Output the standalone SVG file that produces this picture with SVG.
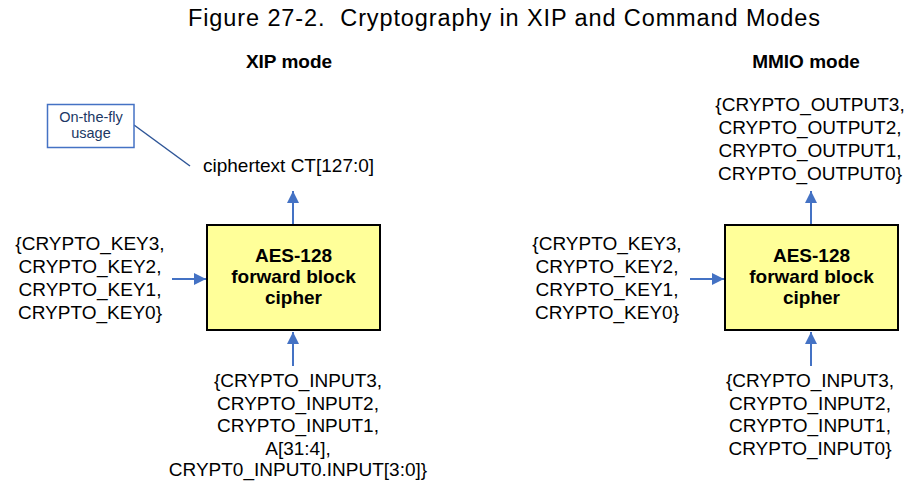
<svg xmlns="http://www.w3.org/2000/svg" width="907" height="481" viewBox="0 0 907 481">
<defs>
<style>
text{font-family:"Liberation Sans",Arial,sans-serif;fill:#000}
.t{font-size:19px;text-anchor:middle}
.b{font-size:19px;font-weight:bold;text-anchor:middle}
.box{fill:#FFFF99;stroke:#000;stroke-width:2}
.arr{stroke:#4472C4;stroke-width:2;fill:none;marker-end:url(#ah)}
.note{fill:#fff;stroke:#4472C4;stroke-width:1.5}
.nt{font-size:14.5px;text-anchor:middle;fill:#203864}
</style>
<marker id="ah" markerUnits="userSpaceOnUse" markerWidth="14" markerHeight="14" refX="12" refY="6" orient="auto">
<path d="M0,0 L12,6 L0,12 Z" fill="#4472C4"/>
</marker>
</defs>
<rect width="907" height="481" fill="#fff"/>
<text x="188" y="26" font-size="23.5" textLength="632" lengthAdjust="spacing" xml:space="preserve" style="white-space:pre">Figure 27-2.  Cryptography in XIP and Command Modes</text>
<text class="b" x="289" y="68">XIP mode</text>
<text class="b" x="806" y="68">MMIO mode</text>

<g id="connectors">
<path class="arr" d="M172,279 H206"/>
<path class="arr" d="M293,224 V191"/>
<path class="arr" d="M293,366 V332"/>
<path class="arr" d="M690,279 H724"/>
<path class="arr" d="M811,224 V191"/>
<path class="arr" d="M811,366 V332"/>
<path d="M134,125 L190,166" stroke="#2E5597" stroke-width="1.5" fill="none"/>
</g>

<g id="note">
<rect class="note" x="47.5" y="104.5" width="86.5" height="43"/>
<text class="nt" x="91" y="121.5">On-the-fly</text>
<text class="nt" x="91" y="137.5">usage</text>
</g>

<g id="xip-cipher">
<rect class="box" x="207" y="225" width="173" height="105"/>
<text class="b" x="293.5" y="262">AES-128</text>
<text class="b" x="293.5" y="283">forward block</text>
<text class="b" x="293.5" y="304">cipher</text>
</g>

<g id="xip-ciphertext">
<text x="203" y="172" font-size="19">ciphertext CT[127:0]</text>
</g>

<g id="xip-keys">
<text class="t" x="90" y="250">{CRYPTO_KEY3,</text>
<text class="t" x="90" y="273">CRYPTO_KEY2,</text>
<text class="t" x="90" y="296">CRYPTO_KEY1,</text>
<text class="t" x="90" y="319">CRYPTO_KEY0}</text>
</g>

<g id="xip-input">
<text class="t" x="298" y="387">{CRYPTO_INPUT3,</text>
<text class="t" x="298" y="409.5">CRYPTO_INPUT2,</text>
<text class="t" x="298" y="432">CRYPTO_INPUT1,</text>
<text class="t" x="298" y="454.5">A[31:4],</text>
<text class="t" x="298" y="476">CRYPT0_INPUT0.INPUT[3:0]}</text>
</g>

<g id="mmio-cipher">
<rect class="box" x="725" y="225" width="173" height="105"/>
<text class="b" x="811.5" y="262">AES-128</text>
<text class="b" x="811.5" y="283">forward block</text>
<text class="b" x="811.5" y="304">cipher</text>
</g>

<g id="mmio-output">
<text class="t" x="810" y="111">{CRYPTO_OUTPUT3,</text>
<text class="t" x="810" y="134">CRYPTO_OUTPUT2,</text>
<text class="t" x="810" y="157">CRYPTO_OUTPUT1,</text>
<text class="t" x="810" y="180">CRYPTO_OUTPUT0}</text>
</g>

<g id="mmio-keys">
<text class="t" x="607" y="250">{CRYPTO_KEY3,</text>
<text class="t" x="607" y="273">CRYPTO_KEY2,</text>
<text class="t" x="607" y="296">CRYPTO_KEY1,</text>
<text class="t" x="607" y="319">CRYPTO_KEY0}</text>
</g>

<g id="mmio-input">
<text class="t" x="810" y="387">{CRYPTO_INPUT3,</text>
<text class="t" x="810" y="409.5">CRYPTO_INPUT2,</text>
<text class="t" x="810" y="432">CRYPTO_INPUT1,</text>
<text class="t" x="810" y="454.5">CRYPTO_INPUT0}</text>
</g>
</svg>
